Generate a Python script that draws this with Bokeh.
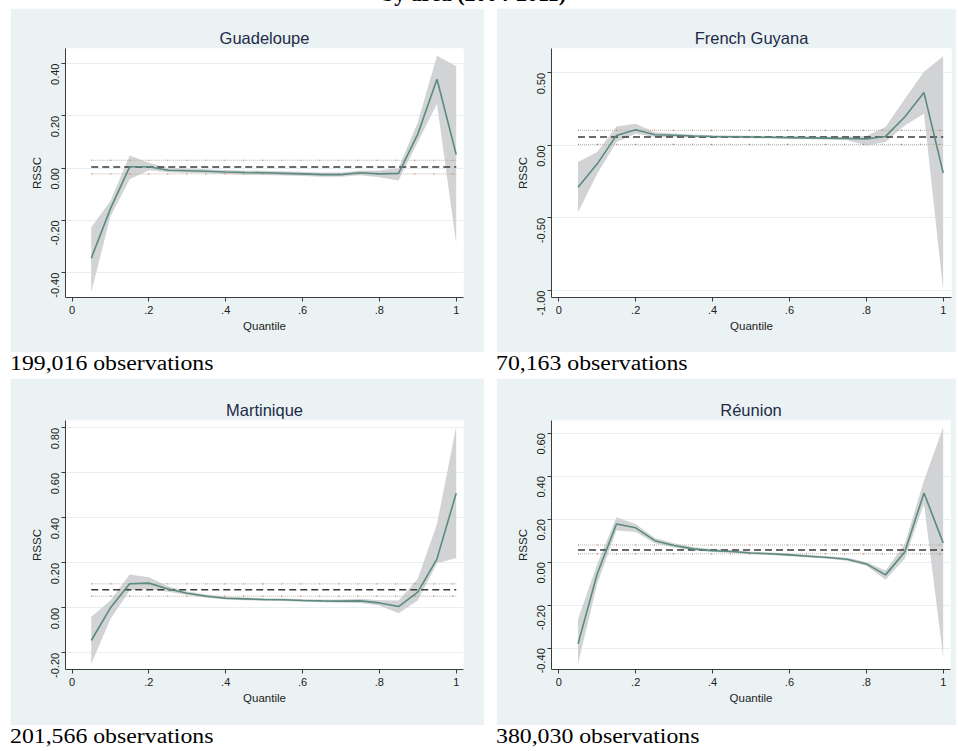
import math
from bokeh.plotting import figure
from bokeh.models import FixedTicker, Div, Spacer
from bokeh.layouts import column, row
from bokeh.embed import file_html
from bokeh.resources import INLINE

# ---------------- data ----------------
quantiles = [0.05, 0.10, 0.15, 0.20, 0.25, 0.30, 0.35, 0.40, 0.45, 0.50,
             0.55, 0.60, 0.65, 0.70, 0.75, 0.80, 0.85, 0.90, 0.95, 1.00]

areas = ["Guadeloupe", "French Guyana", "Martinique", "Réunion"]
observations = ["199,016 observations", "70,163 observations",
                "201,566 observations", "380,030 observations"]

gua_est = [-0.345, -0.155, 0.005, 0.005, -0.008, -0.010, -0.012, -0.015, -0.017, -0.018,
           -0.020, -0.022, -0.025, -0.025, -0.018, -0.022, -0.020, 0.130, 0.340, 0.052]
gua_lo = [-0.475, -0.185, -0.043, -0.008, -0.016, -0.018, -0.020, -0.023, -0.025, -0.026,
          -0.028, -0.030, -0.033, -0.033, -0.027, -0.035, -0.047, 0.100, 0.245, -0.290]
gua_hi = [-0.226, -0.126, 0.048, 0.020, 0.000, -0.002, -0.004, -0.007, -0.009, -0.010,
          -0.012, -0.014, -0.017, -0.017, -0.009, -0.009, 0.000, 0.175, 0.430, 0.390]

fg_est = [-0.288, -0.127, 0.069, 0.108, 0.074, 0.070, 0.065, 0.062, 0.060, 0.058,
          0.056, 0.054, 0.052, 0.050, 0.048, 0.045, 0.062, 0.196, 0.364, -0.190]
fg_lo = [-0.460, -0.196, 0.023, 0.080, 0.058, 0.058, 0.055, 0.053, 0.051, 0.049,
         0.047, 0.045, 0.043, 0.040, 0.036, 0.000, 0.023, 0.138, 0.219, -1.000]
fg_hi = [-0.115, -0.046, 0.131, 0.150, 0.090, 0.082, 0.075, 0.071, 0.069, 0.067,
         0.065, 0.063, 0.061, 0.060, 0.060, 0.065, 0.127, 0.320, 0.507, 0.615]

mar_est = [-0.145, 0.000, 0.107, 0.110, 0.084, 0.065, 0.052, 0.043, 0.040, 0.037,
           0.036, 0.033, 0.031, 0.030, 0.031, 0.022, 0.006, 0.070, 0.218, 0.510]
mar_lo = [-0.249, -0.049, 0.077, 0.084, 0.072, 0.057, 0.045, 0.037, 0.034, 0.031,
          0.030, 0.027, 0.025, 0.023, 0.022, 0.010, -0.024, 0.033, 0.198, 0.222]
mar_hi = [-0.039, 0.033, 0.148, 0.136, 0.096, 0.073, 0.059, 0.049, 0.046, 0.043,
          0.042, 0.039, 0.037, 0.037, 0.040, 0.034, 0.033, 0.129, 0.373, 0.806]

reu_est = [-0.380, -0.054, 0.178, 0.160, 0.100, 0.078, 0.062, 0.054, 0.050, 0.043,
           0.039, 0.034, 0.028, 0.022, 0.014, -0.008, -0.059, 0.047, 0.322, 0.090]
reu_lo = [-0.473, -0.100, 0.147, 0.140, 0.088, 0.068, 0.054, 0.047, 0.043, 0.037,
          0.033, 0.028, 0.022, 0.016, 0.007, -0.017, -0.082, 0.016, 0.271, -0.442]
reu_hi = [-0.264, -0.008, 0.209, 0.178, 0.112, 0.088, 0.070, 0.061, 0.057, 0.049,
          0.045, 0.040, 0.034, 0.028, 0.021, 0.001, -0.039, 0.085, 0.380, 0.628]

# OLS estimate and its confidence interval (mean, low, high)
gua_ols = [0.004, -0.022, 0.030]
fg_ols = [0.058, 0.007, 0.104]
mar_ols = [0.080, 0.052, 0.107]
reu_ols = [0.057, 0.039, 0.080]

x_ticks = [0.0, 0.2, 0.4, 0.6, 0.8, 1.0]
x_tick_labels = ["0", ".2", ".4", ".6", ".8", "1"]

gua_yticks = [-0.4, -0.2, 0.0, 0.2, 0.4]
gua_ylabels = ["-0.40", "-0.20", "0.00", "0.20", "0.40"]
fg_yticks = [-1.0, -0.5, 0.0, 0.5]
fg_ylabels = ["-1.00", "-0.50", "0.00", "0.50"]
mar_yticks = [-0.2, 0.0, 0.2, 0.4, 0.6, 0.8]
mar_ylabels = ["-0.20", "0.00", "0.20", "0.40", "0.60", "0.80"]
reu_yticks = [-0.4, -0.2, 0.0, 0.2, 0.4, 0.6]
reu_ylabels = ["-0.40", "-0.20", "0.00", "0.20", "0.40", "0.60"]

page_title = "by area (2004-2011)"

# ---------------- style ----------------
GRAPH_BG = "#EAF2F3"
GRID = "#E6EFF1"
BAND = "#D2D3D4"
LINE = "#5B8A80"
OLS = "#3A3A3A"
OLS_CI = "#B4B0AA"
OLS_CI_DOT = "#E07A30"
AXIS = "#3C3C3C"
TXT = "#222222"
TITLE = "#1E2A48"
SANS = "Liberation Sans"
SERIF = "Liberation Serif"


def panel(title, est, lo, hi, ols, yticks, ylabels, xr, yr, fw, fh, bl, br, bt, bb):
    p = figure(frame_width=fw, frame_height=fh, x_range=xr, y_range=yr,
               min_border_left=bl, min_border_right=br, min_border_top=bt,
               min_border_bottom=bb, output_backend="svg", toolbar_location=None,
               background_fill_color="white", border_fill_color=GRAPH_BG,
               outline_line_color=None, title=title, margin=0)
    p.title.align = "center"
    p.title.text_font = SANS
    p.title.text_font_size = "16.5px"
    p.title.text_font_style = "normal"
    p.title.text_color = TITLE
    p.title.standoff = 3

    p.varea(x=quantiles, y1=lo, y2=hi, fill_color=BAND, fill_alpha=1.0)
    xo = [quantiles[0], quantiles[-1]]
    for v in (ols[1], ols[2]):
        p.line(xo, [v, v], line_color=OLS_CI, line_dash="1 1", line_width=0.9)
        p.line(xo, [v, v], line_color=OLS_CI_DOT, line_dash="1 18", line_width=1.2)
    p.line(xo, [ols[0], ols[0]], line_color=OLS, line_dash="7 4", line_width=1.5)
    p.line(quantiles, est, line_color=LINE, line_width=1.6)

    p.xaxis.ticker = FixedTicker(ticks=x_ticks)
    p.xaxis.major_label_overrides = dict(zip(x_ticks, x_tick_labels))
    p.yaxis.ticker = FixedTicker(ticks=yticks)
    p.yaxis.major_label_overrides = dict(zip(yticks, ylabels))
    p.yaxis.major_label_orientation = math.pi / 2
    p.xaxis.axis_label = "Quantile"
    p.yaxis.axis_label = "RSSC"
    for ax in (p.xaxis, p.yaxis):
        ax.axis_line_color = AXIS
        ax.axis_line_width = 1
        ax.major_tick_line_color = AXIS
        ax.major_tick_in = 0
        ax.major_tick_out = 4
        ax.minor_tick_line_color = None
        ax.major_label_text_font = SANS
        ax.major_label_text_font_size = "11px"
        ax.major_label_text_color = TXT
        ax.axis_label_text_font = SANS
        ax.axis_label_text_font_size = "11.5px"
        ax.axis_label_text_font_style = "normal"
        ax.axis_label_text_color = TXT
    p.xaxis.major_label_standoff = 4
    p.xaxis.axis_label_standoff = 3
    p.yaxis.major_label_standoff = 6
    p.yaxis.axis_label_standoff = 2
    p.xgrid.grid_line_color = None
    p.ygrid.ticker = FixedTicker(ticks=yticks)
    p.ygrid.grid_line_color = GRID
    p.ygrid.grid_line_width = 1.2
    return p


p1 = panel(areas[0], gua_est, gua_lo, gua_hi, gua_ols, gua_yticks, gua_ylabels,
           (-0.017, 1.019), (-0.495, 0.4575), 398, 249, 55, 21, 40, 55)
p2 = panel(areas[1], fg_est, fg_lo, fg_hi, fg_ols, fg_yticks, fg_ylabels,
           (-0.019, 1.0216), (-1.048, 0.668), 400, 249, 55, 5, 40, 55)
p3 = panel(areas[2], mar_est, mar_lo, mar_hi, mar_ols, mar_yticks, mar_ylabels,
           (-0.017, 1.019), (-0.274, 0.833), 398, 249, 55, 21, 42, 56)
p4 = panel(areas[3], reu_est, reu_lo, reu_hi, reu_ols, reu_yticks, reu_ylabels,
           (-0.019, 1.019), (-0.499, 0.659), 399, 249, 55, 6, 42, 56)


def obs_div(text, width, height):
    html = ('<span style="display:inline-block; transform:scaleX(1.16); '
            'transform-origin:0 50%; line-height:23px;">' + text + '</span>')
    return Div(text=html, width=width, height=height, margin=0,
               styles={"font-family": SERIF, "font-size": "20.5px", "line-height": "23px",
                       "color": "black", "background-color": "white",
                       "white-space": "nowrap"})


def gap(w, h):
    return Spacer(width=w, height=h, margin=0)


title_div = Div(text='<div style="position:relative; top:-17px; text-align:center; '
                     'width:948px; font-family:Liberation Serif; font-weight:bold; '
                     'font-size:22px; line-height:22px; color:black;">' + page_title + '</div>',
                width=948, height=0, margin=0, styles={"overflow": "visible"})

layout = column(
    title_div,
    gap(948, 8),
    row(gap(10, 344), p1, gap(12, 344), p2, margin=0),
    row(gap(10, 26), obs_div(observations[0], 474, 26),
        gap(12, 26), obs_div(observations[1], 460, 26), margin=0),
    row(gap(10, 347), p3, gap(12, 347), p4, margin=0),
    row(gap(10, 26), obs_div(observations[2], 474, 26),
        gap(12, 26), obs_div(observations[3], 460, 26), margin=0),
    margin=0,
)

open("out.html", "w").write(file_html(layout, INLINE))
